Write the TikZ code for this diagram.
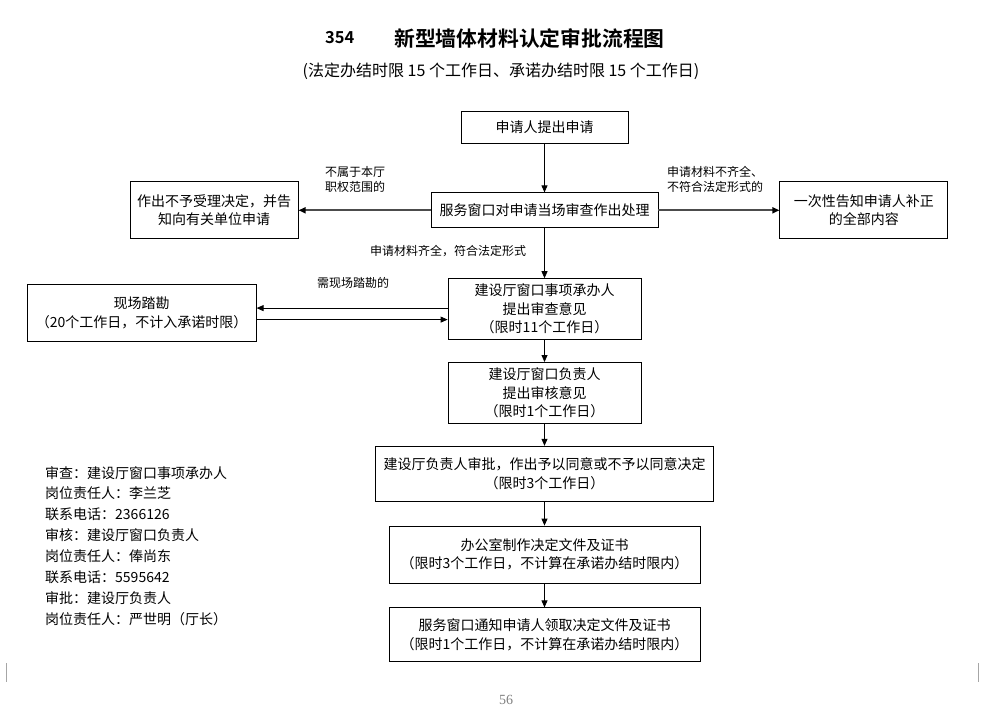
\documentclass[tikz,border=0pt]{standalone}
\usepackage{fontspec}
\setmainfont{Noto Sans CJK SC}[BoldFont={Noto Sans CJK SC Bold}]
\newfontfamily\pagefont{Liberation Serif}
\usetikzlibrary{positioning,arrows.meta}

\tikzset{
	box/.style={draw, line width=0.8pt, align=center, inner sep=2pt,
		font=\fontsize{14}{18.5}\selectfont},
	note/.style={align=left, inner sep=0pt, font=\fontsize{12}{15}\selectfont},
	flow/.style={-{Triangle[length=7pt,width=6pt]}, line width=0.8pt},
	side/.style={-{Triangle[length=7pt,width=6pt,color=black]}, draw=gray!60!black, line width=1.8pt},
}

\begin{document}
\begin{tikzpicture}[x=1pt,y=-1pt]
		\useasboundingbox (0,0) rectangle (995,718);
		
		% title
		\node[anchor=west, inner sep=0pt, font=\fontsize{16.5}{16.5}\selectfont\bfseries] (num) at (325,38) {354};
		\node[anchor=west, inner sep=0pt, font=\fontsize{20.8}{20.8}\selectfont\bfseries] (title) at (394,38) {新型墙体材料认定审批流程图};
		\node[inner sep=0pt, font=\fontsize{16}{16}\selectfont] (sub) at (501,71) {(法定办结时限 15 个工作日、承诺办结时限 15 个工作日)};
		
		% main chain
		\node[box, minimum width=167pt, minimum height=32pt] (apply) at (544.5,127) {申请人提出申请};
		\node[box, minimum width=227pt, minimum height=35pt, below = 49pt of apply] (check) {服务窗口对申请当场审查作出处理};
		\node[box, minimum width=168pt, minimum height=57pt, left = 132pt of check] (reject) {作出不予受理决定，并告\\知向有关单位申请};
		\node[box, minimum width=168pt, minimum height=57pt, right = 121pt of check] (inform) {一次性告知申请人补正\\的全部内容};
		\node[box, minimum width=193pt, minimum height=61pt, below = 50pt of check] (review) {建设厅窗口事项承办人\\提出审查意见\\（限时11个工作日）};
		\node[box, minimum width=229pt, minimum height=57pt, left = 191pt of review, yshift=-4pt] (survey) {现场踏勘\\（20个工作日，不计入承诺时限）};
		\node[box, minimum width=193pt, minimum height=61pt, below = 22pt of review] (audit) {建设厅窗口负责人\\提出审核意见\\（限时1个工作日）};
		\node[box, minimum width=338pt, minimum height=55pt, below = 22pt of audit] (approve) {建设厅负责人审批，作出予以同意或不予以同意决定\\（限时3个工作日）};
		\node[box, minimum width=311pt, minimum height=57pt, below = 24pt of approve] (make) {办公室制作决定文件及证书\\（限时3个工作日，不计算在承诺办结时限内）};
		\node[box, minimum width=311pt, minimum height=54pt, below = 24pt of make] (issue) {服务窗口通知申请人领取决定文件及证书\\（限时1个工作日，不计算在承诺办结时限内）};
		
		% labels
		\node[note, anchor=west] (lbout) at (325,179) {不属于本厅\\职权范围的};
		\node[note, anchor=west] (lbmiss) at (667,179) {申请材料不齐全、\\不符合法定形式的};
		\node[note, anchor=west] (lbok) at (370,251) {申请材料齐全，符合法定形式};
		\node[note, anchor=west] (lbsite) at (317,283) {需现场踏勘的};
		
		% arrows
		\draw[flow] (apply) -- (check);
		\draw[side] (check) -- (reject);
		\draw[side] (check) -- (inform);
		\draw[flow] (check) -- (review);
		\coordinate (r1) at ([yshift=1pt]review.west);
		\coordinate (r2) at ([yshift=-10.5pt]review.west);
		\draw[flow] (r1) -- (r1 -| survey.east);
		\draw[flow] (r2 -| survey.east) -- (r2);
		\draw[flow] (review) -- (audit);
		\draw[flow] (audit) -- (approve);
		\draw[flow] (approve) -- (make);
		\draw[flow] (make) -- (issue);
		
		% contacts
		\node[anchor=north west, align=left, inner sep=0pt, font=\fontsize{14}{20.9}\selectfont] (contacts) at (45,466)
			{审查：建设厅窗口事项承办人\\岗位责任人：李兰芝\\联系电话：2366126\\审核：建设厅窗口负责人\\岗位责任人：俸尚东\\联系电话：5595642\\审批：建设厅负责人\\岗位责任人：严世明（厅长）};
		
		% page
		\draw[gray!70, line width=0.8pt] (6,663) -- (6,682);
		\draw[gray!70, line width=0.8pt] (978,663) -- (978,682);
		\node[gray, font=\pagefont\fontsize{14}{14}\selectfont] (page) at (506,700) {56};
		
	\end{tikzpicture}
\end{document}
